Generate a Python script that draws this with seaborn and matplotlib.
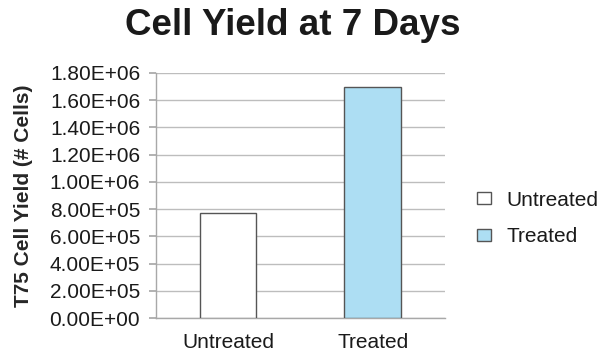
import matplotlib
matplotlib.use("Agg")
import matplotlib.pyplot as plt
import seaborn as sns
import pandas as pd
from matplotlib.ticker import FuncFormatter

# Cell yield after 7 days of culture in T75 flasks
categories = ["Untreated", "Treated"]
cell_yield = [7.7e5, 1.7e6]
bar_colors = ["#FFFFFF", "#ADDEF3"]
y_ticks = [0, 2e5, 4e5, 6e5, 8e5, 1e6, 1.2e6, 1.4e6, 1.6e6, 1.8e6]

df = pd.DataFrame({"Condition": categories, "Yield": cell_yield})

sns.set_theme(style="white")
plt.rcParams["font.family"] = ["Liberation Sans", "DejaVu Sans"]
plt.rcParams["text.color"] = "#1a1a1a"

fig = plt.figure(figsize=(6.0, 3.54), dpi=100)
ax = fig.add_axes([155.5 / 600, (354 - 318) / 354, (445 - 155.5) / 600, (318 - 73) / 354])

sns.barplot(data=df, x="Condition", y="Yield", hue="Condition",
            palette=bar_colors, order=categories, hue_order=categories,
            width=0.39, edgecolor="#555555", linewidth=1.0, dodge=False,
            saturation=1, legend=True, ax=ax, zorder=3)

ax.set_xlim(-0.5, 1.5)
ax.set_ylim(0, 1.8e6)
ax.set_yticks(y_ticks)
ax.yaxis.set_major_formatter(FuncFormatter(lambda v, _: "%.2E" % v))
ax.yaxis.grid(True, color="#bdbdbd", linewidth=1.0, zorder=0)
ax.set_axisbelow(True)

for side in ["top", "right"]:
    ax.spines[side].set_visible(False)
for side in ["left", "bottom"]:
    ax.spines[side].set_color("#a8a8a8")
    ax.spines[side].set_linewidth(1.0)

ax.tick_params(axis="y", left=True, length=5, color="#a8a8a8",
               labelsize=15, labelcolor="#1a1a1a", pad=6)
ax.tick_params(axis="x", bottom=False, labelsize=15,
               labelcolor="#1a1a1a", pad=5)
ax.set_xlabel("")
ax.set_ylabel("T75 Cell Yield (# Cells)", fontsize=15, fontweight="bold",
              labelpad=12)

fig.suptitle("Cell Yield at 7 Days", fontsize=26.5, fontweight="bold",
             x=293 / 600, y=1 - 8 / 354, va="top")

handles, labels = ax.get_legend_handles_labels()
ax.legend(handles, labels, loc="center left",
          bbox_to_anchor=(477 / 600, (354 - 218.5) / 354),
          bbox_transform=fig.transFigure, borderaxespad=0, borderpad=0,
          frameon=False, fontsize=15, handlelength=0.65, handleheight=0.5,
          handletextpad=0.75, labelspacing=0.85)

fig.savefig("out.png", dpi=100)
